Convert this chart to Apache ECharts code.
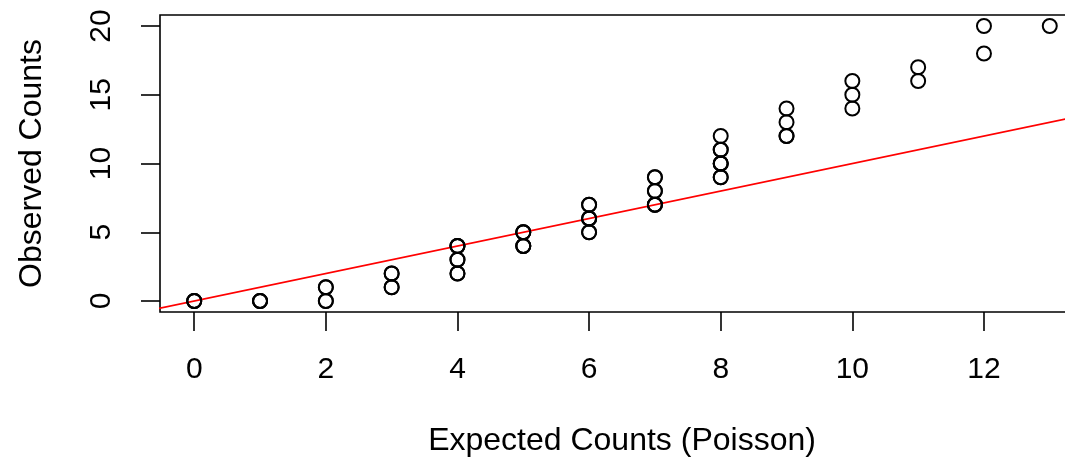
<!DOCTYPE html>
<html>
<head>
<meta charset="utf-8">
<script src="https://cdn.jsdelivr.net/npm/echarts@6/dist/echarts.min.js"></script>
<style>
html,body{margin:0;padding:0;background:#fff;}
#chart{width:1065px;height:463px;}
</style>
</head>
<body>
<div id="chart"></div>
<script>
// Expected (Poisson) vs observed counts; repeated pairs are listed as often as they occur
var expected = [0,0,0, 1,1,1, 2,2, 2,2, 3,3, 3,3, 4,4, 4,4, 4,4,4, 5,5,5, 5,5,5, 6,6, 6,6,6, 6,6, 7,7,7, 7,7, 7,7, 8,8, 8,8,8, 8,8, 8, 9,9, 9, 9, 10, 10, 10, 11, 11, 12, 12, 13];
var observed = [0,0,0, 0,0,0, 0,0, 1,1, 1,1, 2,2, 2,2, 3,3, 4,4,4, 4,4,4, 5,5,5, 5,5, 6,6,6, 7,7, 7,7,7, 8,8, 9,9, 9,9, 10,10,10, 11,11, 12, 12,12, 13, 14, 14, 15, 16, 16, 17, 18, 20, 20];
// reference line y = x
var refLineX = [-1, 14];
var refLineY = [-1, 14];
var xTicks = [0, 2, 4, 6, 8, 10, 12];
var yTicks = [0, 5, 10, 15, 20];
var xTitle = 'Expected Counts (Poisson)';
var yTitle = 'Observed Counts';

var points = expected.map(function (x, i) { return [x, observed[i]]; });
var linePts = refLineX.map(function (x, i) { return [x, refLineY[i]]; });

var font = 'Liberation Sans, Arial, Helvetica, sans-serif';
var chart = echarts.init(document.getElementById('chart'), null, {renderer: 'canvas'});
chart.setOption({
  animation: false,
  backgroundColor: '#fff',
  grid: {
    left: 160, top: 15, width: 924, height: 297,
    outerBoundsMode: 'none', containLabel: false,
    show: true, borderColor: '#000', borderWidth: 1.6, backgroundColor: 'transparent'
  },
  xAxis: {
    type: 'value', min: -0.52, max: 13.52,
    name: xTitle, nameLocation: 'middle', nameGap: 113,
    nameTextStyle: {fontFamily: font, fontSize: 32, color: '#000'},
    axisLine: {show: false, onZero: false},
    splitLine: {show: false},
    axisTick: {show: true, inside: false, length: 19, customValues: xTicks, lineStyle: {color: '#000', width: 1.6}},
    axisLabel: {customValues: xTicks, margin: 43, fontFamily: font, fontSize: 30, color: '#000'}
  },
  yAxis: {
    type: 'value', min: -0.8, max: 20.8,
    name: yTitle, nameLocation: 'middle', nameGap: 112, nameRotate: 90,
    nameTextStyle: {fontFamily: font, fontSize: 32, color: '#000'},
    axisLine: {show: false, onZero: false},
    splitLine: {show: false},
    axisTick: {show: true, inside: false, length: 19, customValues: yTicks, lineStyle: {color: '#000', width: 1.6}},
    axisLabel: {customValues: yTicks, rotate: 90, margin: 43, fontFamily: font, fontSize: 30, color: '#000'}
  },
  series: [
    {
      type: 'line', data: linePts, showSymbol: false, clip: true,
      lineStyle: {color: '#ff0000', width: 1.7}, z: 2
    },
    {
      type: 'scatter', data: points, symbol: 'circle', symbolSize: 14,
      itemStyle: {color: 'transparent', borderColor: '#000', borderWidth: 2, opacity: 1}, z: 3
    }
  ]
});
</script>
</body>
</html>
